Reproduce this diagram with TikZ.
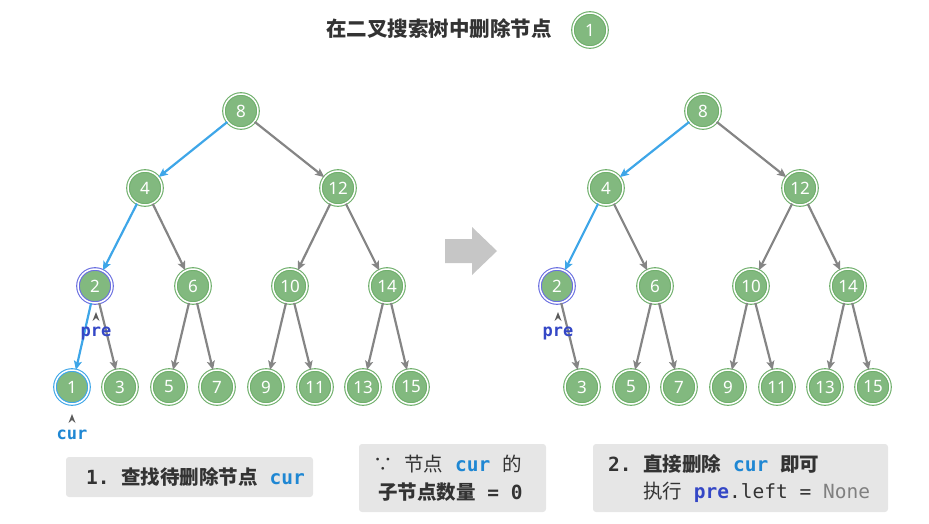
\documentclass[tikz,border=0pt]{standalone}
\usepackage{fontspec}
\setmainfont{Noto Sans}
\setmonofont{DejaVu Sans Mono}
\newfontfamily\cjk{Noto Sans CJK SC}
\usetikzlibrary{arrows.meta}
\definecolor{nodegreen}{HTML}{82B97F}
\definecolor{ringgreen}{HTML}{6FAF6B}
\definecolor{pathblue}{HTML}{3EA6E8}
\definecolor{curblue}{HTML}{1F87D3}
\definecolor{preblue}{HTML}{3447C6}
\definecolor{ringpre}{HTML}{6A6FE0}
\definecolor{edgegray}{HTML}{858585}
\definecolor{textgray}{HTML}{333333}
\definecolor{boxgray}{HTML}{E6E6E6}
\newcommand{\msp}{\texttt{\ }}

\begin{document}
\begin{tikzpicture}[x=1pt,y=-1pt,
  tnode/.style={circle,minimum size=34pt,inner sep=0pt,fill=nodegreen,draw=ringgreen,
    double=white,double distance=1.5pt,line width=1.1pt,text=white,
    font=\fontsize{17}{19}\selectfont},
  prenode/.style={tnode,draw=ringpre},
  curnode/.style={tnode,draw=pathblue},
  gedge/.style={edgegray,line width=2.2pt,-{Stealth[length=9pt,width=8pt,inset=2pt]}},
  bedge/.style={gedge,pathblue},
  code/.style={font=\fontsize{17}{19}\selectfont\ttfamily\bfseries},
  note/.style={font=\fontsize{19.5}{22}\selectfont,text=textgray,anchor=west,inner sep=0pt},
  caret/.style={fill=textgray!80}]
\useasboundingbox (0,0) rectangle (929,523);

% title
\node[font=\cjk\bfseries\fontsize{20.5}{24}\selectfont,text=textgray] (title) at (439,29) {在二叉搜索树中删除节点};
\node[tnode] (tone) at (590,30) {1};

% left tree
\foreach \n/\x/\y in {8/241/111,4/145/188,12/338/188,6/193/286,10/290/286,14/387/286,
  3/120/387,5/169/387,7/217/387,9/266/387,11/315/387,13/363/387,15/411/387}
  \node[tnode] (a\n) at (\x,\y) {\n};
\node[prenode] (a2) at (95,286) {2};
\node[curnode] (a1) at (72,387) {1};

\draw[bedge] (a8) -- (a4);
\draw[bedge] (a4) -- (a2);
\draw[bedge] (a2) -- (a1);
\draw[gedge] (a8) -- (a12);
\draw[gedge] (a4) -- (a6);
\draw[gedge] (a2) -- (a3);
\draw[gedge] (a6) -- (a5);
\draw[gedge] (a6) -- (a7);
\draw[gedge] (a12) -- (a10);
\draw[gedge] (a12) -- (a14);
\draw[gedge] (a10) -- (a9);
\draw[gedge] (a10) -- (a11);
\draw[gedge] (a14) -- (a13);
\draw[gedge] (a14) -- (a15);

\fill[caret] (96,312)--(99.5,321)--(96,318)--(92.5,321)--cycle;
\node[code,text=preblue] (apre) at (96,333) {pre};
\fill[caret] (72,414)--(75.5,423)--(72,420)--(68.5,423)--cycle;
\node[code,text=curblue] (acur) at (72,435) {cur};

% arrow between the trees
\fill[gray!45] (445,239) -- (472,239) -- (472,227) -- (497,251) -- (472,275) -- (472,263) -- (445,263) -- cycle;

% right tree
\foreach \n/\x/\y in {8/703/111,4/606/188,12/800/188,6/655/286,10/751/286,14/848/286,
  3/582/387,5/631/387,7/679/387,9/728/387,11/777/387,13/825/387,15/873/387}
  \node[tnode] (b\n) at (\x,\y) {\n};
\node[prenode] (b2) at (557,286) {2};

\draw[bedge] (b8) -- (b4);
\draw[bedge] (b4) -- (b2);
\draw[gedge] (b8) -- (b12);
\draw[gedge] (b4) -- (b6);
\draw[gedge] (b2) -- (b3);
\draw[gedge] (b6) -- (b5);
\draw[gedge] (b6) -- (b7);
\draw[gedge] (b12) -- (b10);
\draw[gedge] (b12) -- (b14);
\draw[gedge] (b10) -- (b9);
\draw[gedge] (b10) -- (b11);
\draw[gedge] (b14) -- (b13);
\draw[gedge] (b14) -- (b15);

\fill[caret] (558,312)--(561.5,321)--(558,318)--(554.5,321)--cycle;
\node[code,text=preblue] (bpre) at (558,333) {pre};

% notes
\fill[boxgray,rounded corners=3pt] (66,457) rectangle (313,497);
\node[note] (stepone) at (86,477)
  {\texttt{\bfseries 1.}\msp{\cjk\bfseries 查找待删除节点}\msp\textcolor{curblue}{\texttt{\bfseries cur}}};

\fill[boxgray,rounded corners=3pt] (359,444) rectangle (546,512);
\node[note] (whyone) at (373,464)
  {{\cjk ∵}\msp{\cjk 节点}\msp\textcolor{curblue}{\texttt{\bfseries cur}}\msp{\cjk 的}};
\node[note] (whytwo) at (378,492)
  {{\cjk\bfseries 子节点数量}\msp\texttt{\bfseries =\ 0}};

\fill[boxgray,rounded corners=3pt] (593,444) rectangle (888,512);
\node[note] (steptwo) at (608,464)
  {\texttt{\bfseries 2.}\msp{\cjk\bfseries 直接删除}\msp\textcolor{curblue}{\texttt{\bfseries cur}}\msp{\cjk\bfseries 即可}};
\node[note] (stepcode) at (643,492)
  {{\cjk 执行}\msp\textcolor{preblue}{\texttt{\bfseries pre}}\texttt{.left\ =\ }\textcolor{gray}{\texttt{None}}};
\end{tikzpicture}
\end{document}
